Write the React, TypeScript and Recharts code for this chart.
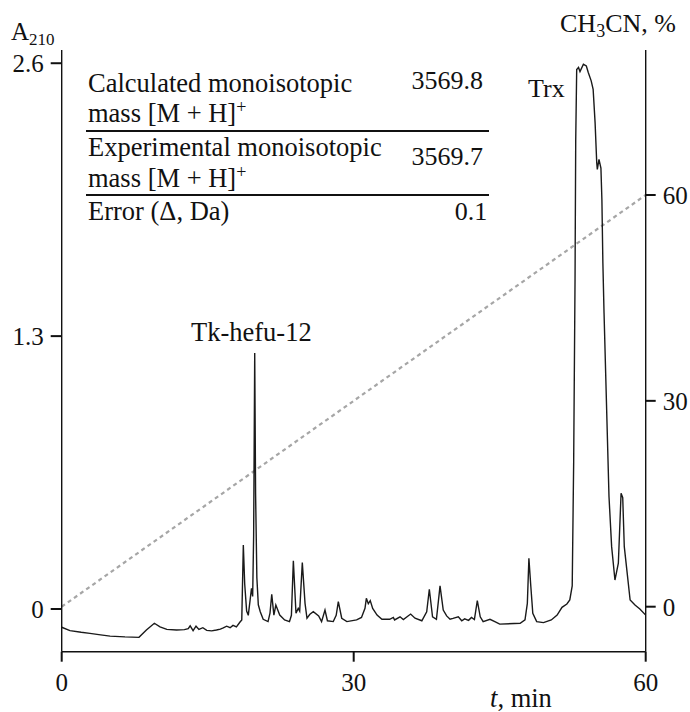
import React from 'react';
import { LineChart, Line, XAxis, YAxis } from 'recharts';

// Chromatogram: retention time (min) and absorbance A210
const times = [
  0, 0.85, 2.0, 2.9, 4.0, 4.97, 6.5, 7.94, 8.7, 9.52, 10.1, 10.8, 11.8, 12.6, 13.0, 13.2, 13.5, 13.8,
  14.1, 14.5, 14.9, 15.4, 15.9, 16.3, 16.6, 16.95, 17.3, 17.6, 17.95, 18.3, 18.5, 18.66, 18.8, 19.0,
  19.17, 19.35, 19.5, 19.62, 19.72, 19.83, 19.92, 20.05, 20.2, 20.4, 20.7, 21.2, 21.4, 21.58, 21.8,
  22.0, 22.4, 22.9, 23.4, 23.6, 23.8, 24.07, 24.3, 24.45, 24.72, 25.0, 25.2, 25.5, 25.85, 26.4, 26.7,
  27.05, 27.3, 27.9, 28.2, 28.42, 28.77, 29.3, 30.3, 30.8, 31.16, 31.3, 31.5, 31.7, 31.95, 32.4, 32.9,
  33.7, 34.07, 34.2, 34.76, 35.1, 35.85, 36.3, 37.0, 37.5, 37.77, 38.1, 38.5, 38.87, 39.2, 39.55, 39.9,
  40.2, 40.75, 41.1, 41.4, 41.8, 42.1, 42.4, 42.7, 43.0, 43.3, 44.0, 44.5, 45.0, 47.1, 47.6, 47.84,
  48.0, 48.2, 48.4, 48.8, 49.5, 50.3, 50.9, 51.4, 51.9, 52.2, 52.45, 52.6, 52.74, 52.81, 52.91, 53.1,
  53.25, 53.6, 53.9, 54.1, 54.4, 54.6, 54.8, 54.97, 55.03, 55.2, 55.4, 55.5, 55.6, 55.72, 56.23, 56.5,
  56.84, 57.19, 57.47, 57.64, 57.8, 58.4, 58.9, 59.4, 60,
];
const a210 = [
  -0.087, -0.103, -0.111, -0.116, -0.123, -0.129, -0.133, -0.135, -0.1, -0.068, -0.085, -0.097, -0.1,
  -0.098, -0.094, -0.08, -0.103, -0.082, -0.097, -0.089, -0.102, -0.104, -0.1, -0.096, -0.09, -0.082,
  -0.089, -0.078, -0.085, -0.063, -0.052, 0.305, 0.12, -0.01, -0.03, 0.04, 0.099, 0.06, 0.35, 1.22,
  0.55, 0.15, 0.02, -0.013, -0.049, -0.06, -0.02, 0.07, -0.029, 0.019, -0.029, -0.052, -0.06, -0.03,
  0.23, -0.02, 0.003, -0.01, 0.221, 0.027, -0.044, -0.025, -0.013, -0.033, -0.06, -0.005, -0.056,
  -0.06, -0.03, 0.035, -0.044, -0.06, -0.052, -0.04, 0.003, 0.051, 0.025, 0.04, 0.003, -0.029, -0.049,
  -0.049, -0.04, -0.052, -0.037, -0.05, -0.024, -0.044, -0.056, -0.013, 0.094, -0.037, -0.049, 0.11,
  -0.005, -0.033, -0.049, -0.045, -0.037, -0.056, -0.047, -0.054, -0.04, -0.05, 0.04, -0.037, -0.06,
  -0.049, -0.06, -0.072, -0.068, -0.052, 0.027, 0.242, 0.106, -0.02, -0.06, -0.065, -0.052, -0.029,
  0.008, 0.024, 0.043, 0.11, 0.7, 1.57, 2.23, 2.57, 2.58, 2.56, 2.595, 2.587, 2.556, 2.516, 2.476,
  2.317, 2.126, 2.094, 2.142, 2.1, 1.95, 1.65, 1.41, 0.535, 0.297, 0.138, 0.218, 0.551, 0.53, 0.297,
  0.043, 0.019, 0.0, -0.029,
];

// Acetonitrile gradient (%)
const gradientTimes = [0, 60];
const gradientPercent = [0, 60];

const xTicks = [0, 30, 60];
const leftTicks = [0, 1.3, 2.6];
const rightTicks = [0, 30, 60];

const signal = times.map((t, i) => ({ t, a: a210[i] }));
const gradient = gradientTimes.map((t, i) => ({ t, g: gradientPercent[i] }));

const FONT = '"Liberation Serif", "Times New Roman", serif';
const tickStyle = { fontFamily: FONT, fontSize: 25, fill: '#111' };

export default function App() {
  return (
    <div style={{ position: 'absolute', left: 0, top: 0, width: 690, height: 712, background: '#fff' }}>
      <LineChart width={690} height={712} margin={{ top: 50, right: 43.3, bottom: 59.3, left: 60.7 }}>
        <XAxis
          dataKey="t"
          type="number"
          domain={[0, 60]}
          ticks={xTicks}
          allowDataOverflow
          height={1}
          tick={tickStyle}
          tickSize={10}
          tickMargin={12}
          axisLine={{ stroke: '#111', strokeWidth: 1.4 }}
          tickLine={{ stroke: '#111', strokeWidth: 2 }}
        />
        <YAxis
          yAxisId="left"
          orientation="left"
          type="number"
          domain={[-0.2034, 2.663]}
          ticks={leftTicks}
          allowDataOverflow
          width={1}
          tick={tickStyle}
          tickSize={11}
          tickMargin={7}
          axisLine={{ stroke: '#111', strokeWidth: 1.4 }}
          tickLine={{ stroke: '#111', strokeWidth: 2 }}
        />
        <YAxis
          yAxisId="right"
          orientation="right"
          type="number"
          domain={[-6.558, 81.13]}
          ticks={rightTicks}
          allowDataOverflow
          width={1}
          tick={tickStyle}
          tickSize={10}
          tickMargin={7}
          axisLine={{ stroke: '#111', strokeWidth: 1.4 }}
          tickLine={{ stroke: '#111', strokeWidth: 2 }}
        />
        <Line
          data={gradient}
          yAxisId="right"
          dataKey="g"
          type="linear"
          stroke="#a6a6a6"
          strokeWidth={2.2}
          strokeDasharray="4 3.5"
          dot={false}
          isAnimationActive={false}
        />
        <Line
          data={signal}
          yAxisId="left"
          dataKey="a"
          type="linear"
          stroke="#1a1a1a"
          strokeWidth={1.4}
          dot={false}
          isAnimationActive={false}
        />
      </LineChart>
      <svg
        width={690}
        height={712}
        style={{ position: 'absolute', left: 0, top: 0, pointerEvents: 'none' }}
        fontFamily={FONT}
        fill="#111"
      >
        <text x={11} y={39.5} fontSize={25}>
          A<tspan fontSize={17} dy={5}>210</tspan>
        </text>
        <text x={560} y={31.7} fontSize={26}>
          CH<tspan fontSize={18} dy={5}>3</tspan>
          <tspan dy={-5}>CN, %</tspan>
        </text>

        <text x={88} y={92} fontSize={26.5}>Calculated monoisotopic</text>
        <text x={483} y={89} fontSize={26} textAnchor="end">3569.8</text>
        <text x={88} y={122} fontSize={26.5}>
          mass [M + H]<tspan fontSize={18} dy={-9}>+</tspan>
        </text>
        <line x1={86} x2={489} y1={131} y2={131} stroke="#111" strokeWidth={2} />
        <text x={88} y={156} fontSize={26.5}>Experimental monoisotopic</text>
        <text x={483} y={165} fontSize={26} textAnchor="end">3569.7</text>
        <text x={88} y={187} fontSize={26.5}>
          mass [M + H]<tspan fontSize={18} dy={-9}>+</tspan>
        </text>
        <line x1={86} x2={489} y1={195} y2={195} stroke="#111" strokeWidth={2} />
        <text x={88} y={220} fontSize={26.5}>Error (Δ, Da)</text>
        <text x={471} y={220} fontSize={26} textAnchor="middle">0.1</text>

        <text x={191} y={340.5} fontSize={26.5}>Tk-hefu-12</text>
        <text x={528} y={97} fontSize={26}>Trx</text>

        <text x={490} y={707} fontSize={26.5}>
          <tspan fontStyle="italic">t</tspan>, min
        </text>
      </svg>
    </div>
  );
}
